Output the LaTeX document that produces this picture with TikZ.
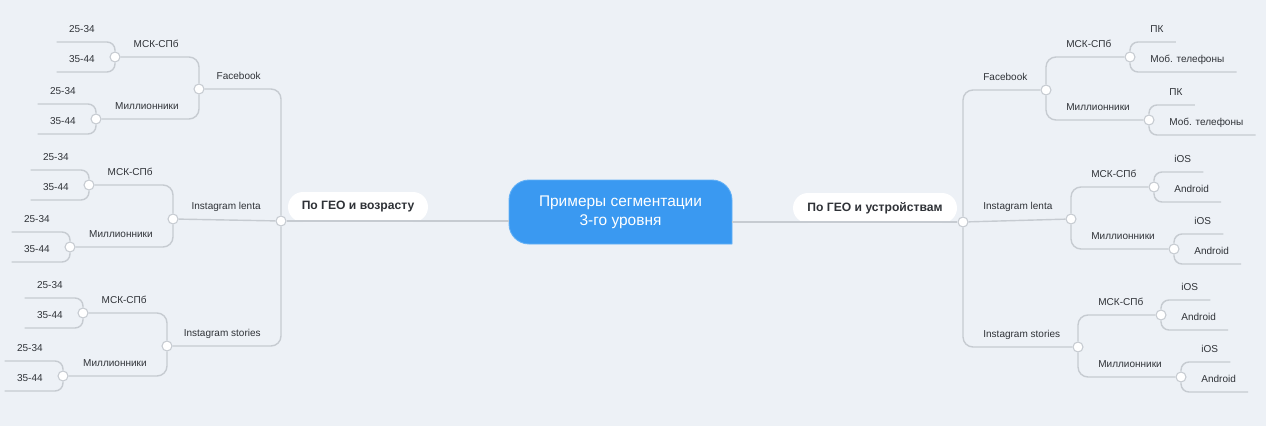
\documentclass[tikz,border=0pt]{standalone}
\usepackage{fontspec}
\setmainfont{Liberation Sans}
\definecolor{bgcol}{HTML}{EDF1F6}
\definecolor{linecol}{HTML}{C6CBD1}
\definecolor{cenfill}{HTML}{3A99F1}
\definecolor{cenline}{HTML}{63B1F6}
\definecolor{txtcol}{HTML}{2F3237}
\tikzset{
  hub/.style={circle,draw=linecol,fill=white,line width=0.6pt,minimum size=0.2cm,inner sep=0pt},
  conn/.style={draw=linecol,line width=0.8pt,rounded corners=0.2cm},
  lf/.style={conn,rounded corners=0.16cm},
  lbl/.style={text=txtcol,font=\fontsize{5.7}{7}\selectfont,inner xsep=0.24cm,inner ysep=0.14cm,text height=0.14cm,text depth=0.04cm},
  lblL/.style={lbl,anchor=south east},
  lblR/.style={lbl,anchor=south west},
  pill/.style={fill=white,rounded corners=0.3cm,minimum height=0.6cm,text=txtcol,font=\bfseries\fontsize{6.9}{8.3}\selectfont}
}
\begin{document}
\begin{tikzpicture}[x=0.02cm,y=-0.02cm]
\fill[bgcol] (0,0) rectangle (1266,426);
\useasboundingbox (0,0) rectangle (1266,426);
% central topic
\path[fill=cenfill,draw=cenline,line width=0.5pt,rounded corners=0.4cm] (732,244)--(509,244)--(509,180)--(732,180)--(732,244);
\node[text=white,align=center,font=\fontsize{8.8}{10.8}\selectfont,minimum width=4.46cm,minimum height=1.28cm] (cen) at (620.5,212) {Примеры сегментации\\3-го уровня};
\node[pill,minimum width=2.8cm] (pL) at (358,207) {По ГЕО и возрасту};
\node[pill,minimum width=3.28cm] (pR) at (875,208) {По ГЕО и устройствам};
% left side
\node[hub] (L0) at (281,221) {};
\node[hub] (fbL) at (199,89) {};
\node[hub] (ilL) at (173,219) {};
\node[hub] (isL) at (167,346) {};
\node[hub] (a1) at (115,57) {};
\node[hub] (a2) at (96,119) {};
\node[hub] (a3) at (89,185) {};
\node[hub] (a4) at (70,247) {};
\node[hub] (a5) at (83,313) {};
\node[hub] (a6) at (63,376) {};
\draw[conn] (L0)--(cen.west |- L0);
\draw[conn] (fbL) -| (L0);
\draw[conn] (ilL)--(L0);
\draw[conn] (isL) -| (L0);
\draw[conn] (a1) -| (fbL);
\draw[conn] (a2) -| (fbL);
\draw[conn] (a3) -| (ilL);
\draw[conn] (a4) -| (ilL);
\draw[conn] (a5) -| (isL);
\draw[conn] (a6) -| (isL);
\node[lblL] at (273,89) {Facebook};
\node[lblL] at (273,219) {Instagram lenta};
\node[lblL] at (273,346) {Instagram stories};
\node[lblL] at (191,57) {МСК-СПб};
\node[lblL] at (191,119) {Миллионники};
\node[lblL] at (165,185) {МСК-СПб};
\node[lblL] at (165,247) {Миллионники};
\node[lblL] at (159,313) {МСК-СПб};
\node[lblL] at (159,376) {Миллионники};
\node[lblL] (l1) at (107,42) {25-34};
\node[lblL] (l2) at (107,72) {35-44};
\node[lblL] (l3) at (88,104) {25-34};
\node[lblL] (l4) at (88,134) {35-44};
\node[lblL] (l5) at (81,170) {25-34};
\node[lblL] (l6) at (81,200) {35-44};
\node[lblL] (l7) at (62,232) {25-34};
\node[lblL] (l8) at (62,262) {35-44};
\node[lblL] (l9) at (75,298) {25-34};
\node[lblL] (l10) at (75,328) {35-44};
\node[lblL] (l11) at (55,361) {25-34};
\node[lblL] (l12) at (55,391) {35-44};
\draw[lf] (a1) |- (l1.south west);
\draw[lf] (a1) |- (l2.south west);
\draw[lf] (a2) |- (l3.south west);
\draw[lf] (a2) |- (l4.south west);
\draw[lf] (a3) |- (l5.south west);
\draw[lf] (a3) |- (l6.south west);
\draw[lf] (a4) |- (l7.south west);
\draw[lf] (a4) |- (l8.south west);
\draw[lf] (a5) |- (l9.south west);
\draw[lf] (a5) |- (l10.south west);
\draw[lf] (a6) |- (l11.south west);
\draw[lf] (a6) |- (l12.south west);
% right side
\node[hub] (R0) at (963,222) {};
\node[hub] (fbR) at (1046,90) {};
\node[hub] (ilR) at (1071,219) {};
\node[hub] (isR) at (1078,347) {};
\node[hub] (b1) at (1130,57) {};
\node[hub] (b2) at (1149,120) {};
\node[hub] (b3) at (1154,187) {};
\node[hub] (b4) at (1174,249) {};
\node[hub] (b5) at (1161,315) {};
\node[hub] (b6) at (1181,377) {};
\draw[conn] (cen.east |- R0)--(R0);
\draw[conn] (fbR) -| (R0);
\draw[conn] (ilR)--(R0);
\draw[conn] (isR) -| (R0);
\draw[conn] (b1) -| (fbR);
\draw[conn] (b2) -| (fbR);
\draw[conn] (b3) -| (ilR);
\draw[conn] (b4) -| (ilR);
\draw[conn] (b5) -| (isR);
\draw[conn] (b6) -| (isR);
\node[lblR] at (971,90) {Facebook};
\node[lblR] at (971,219) {Instagram lenta};
\node[lblR] at (971,347) {Instagram stories};
\node[lblR] at (1054,57) {МСК-СПб};
\node[lblR] at (1054,120) {Миллионники};
\node[lblR] at (1079,187) {МСК-СПб};
\node[lblR] at (1079,249) {Миллионники};
\node[lblR] at (1086,315) {МСК-СПб};
\node[lblR] at (1086,377) {Миллионники};
\node[lblR] (r1) at (1138,42) {ПК};
\node[lblR] (r2) at (1138,72) {Моб. телефоны};
\node[lblR] (r3) at (1157,105) {ПК};
\node[lblR] (r4) at (1157,135) {Моб. телефоны};
\node[lblR] (r5) at (1162,172) {iOS};
\node[lblR] (r6) at (1162,202) {Android};
\node[lblR] (r7) at (1182,234) {iOS};
\node[lblR] (r8) at (1182,264) {Android};
\node[lblR] (r9) at (1169,300) {iOS};
\node[lblR] (r10) at (1169,330) {Android};
\node[lblR] (r11) at (1189,362) {iOS};
\node[lblR] (r12) at (1189,392) {Android};
\draw[lf] (b1) |- (r1.south east);
\draw[lf] (b1) |- (r2.south east);
\draw[lf] (b2) |- (r3.south east);
\draw[lf] (b2) |- (r4.south east);
\draw[lf] (b3) |- (r5.south east);
\draw[lf] (b3) |- (r6.south east);
\draw[lf] (b4) |- (r7.south east);
\draw[lf] (b4) |- (r8.south east);
\draw[lf] (b5) |- (r9.south east);
\draw[lf] (b5) |- (r10.south east);
\draw[lf] (b6) |- (r11.south east);
\draw[lf] (b6) |- (r12.south east);
\end{tikzpicture}
\end{document}
